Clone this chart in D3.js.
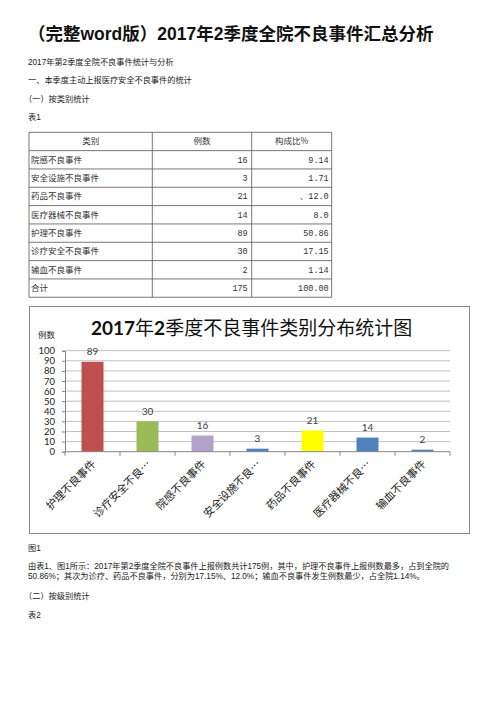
<!DOCTYPE html>
<html>
<head>
<meta charset="utf-8">
<script src="https://cdn.jsdelivr.net/npm/d3@7"></script>
<style>
  html, body { margin: 0; padding: 0; background: #fff; }
  svg { display: block; }
</style>
</head>
<body>
<div id="page"></div>
<script>
// 表1 数据
const tableHeader = ['类别', '例数', '构成比%'];
const tableNames = ['院感不良事件', '安全设施不良事件', '药品不良事件', '医疗器械不良事件', '护理不良事件', '诊疗安全不良事件', '输血不良事件', '合计'];
const tableCounts = ['16', '3', '21', '14', '89', '30', '2', '175'];
const tableRatios = ['9.14', '1.71', '、12.0', '8.0', '50.86', '17.15', '1.14', '100.00'];

// 图1 数据
const chartCategories = ['护理不良事件', '诊疗安全不良…', '院感不良事件', '安全设施不良…', '药品不良事件', '医疗器械不良…', '输血不良事件'];
const chartValues = [89, 30, 16, 3, 21, 14, 2];
const chartColors = ['#C0504D', '#9BBB59', '#B3A2C7', '#4F81BD', '#FFFF00', '#4F81BD', '#4F81BD'];
const yTicks = [0, 10, 20, 30, 40, 50, 60, 70, 80, 90, 100];

const W = 504, H = 713;
const sans = '"Liberation Sans", "Noto Sans CJK SC", sans-serif';
const cjk = '"Noto Sans CJK SC", sans-serif';
const mono = '"Liberation Mono", "Noto Sans CJK SC", monospace';
const calibri = 'Lato, "Noto Sans CJK SC", sans-serif';

const svg = d3.select('#page').append('svg')
  .attr('width', W)
  .attr('height', H)
  .attr('viewBox', `0 0 ${W} ${H}`);

// 页面标题
svg.append('text')
  .attr('x', 28)
  .attr('y', 40)
  .attr('font-family', sans)
  .attr('font-size', 17.5)
  .attr('font-weight', 'bold')
  .attr('fill', '#111')
  .text('（完整word版）2017年2季度全院不良事件汇总分析');

// 正文行
const lines = [
  { y: 64.5, t: '2017年第2季度全院不良事件统计与分析' },
  { y: 83, t: '一、本季度主动上报医疗安全不良事件的统计' },
  { y: 101.5, t: '（一）按类别统计', x: 24 },
  { y: 120, t: '表1' },
  { y: 550.5, t: '图1' },
  { y: 568.5, t: '由表1、图1所示：2017年第2季度全院不良事件上报例数共计175例，其中，护理不良事件上报例数最多，占到全院的', len: 421 },
  { y: 579, t: '50.86%；其次为诊疗、药品不良事件，分别为17.15%、12.0%；输血不良事件发生例数最少，占全院1.14%。' },
  { y: 598.5, t: '（二）按级别统计', x: 24 },
  { y: 618, t: '表2' }
];
svg.append('g').selectAll('text')
  .data(lines)
  .join('text')
  .attr('x', d => d.x || 28)
  .attr('y', d => d.y)
  .attr('font-family', sans)
  .attr('font-size', 8.2)
  .attr('fill', '#222')
  .each(function (d) {
    if (d.len) d3.select(this).attr('textLength', d.len).attr('lengthAdjust', 'spacing');
  })
  .text(d => d.t);

// 表格
const table = { x: 29, y: 132.3, rowH: 18.33, cols: [29, 152.3, 251.7, 331.7] };
const tg = svg.append('g').attr('stroke', '#555').attr('stroke-width', 0.8);
const rowCount = tableNames.length + 1;
tg.selectAll('line.h')
  .data(d3.range(rowCount + 1))
  .join('line')
  .attr('class', 'h')
  .attr('x1', table.cols[0]).attr('x2', table.cols[3])
  .attr('y1', i => table.y + i * table.rowH)
  .attr('y2', i => table.y + i * table.rowH);
tg.selectAll('line.v')
  .data(table.cols)
  .join('line')
  .attr('class', 'v')
  .attr('x1', d => d).attr('x2', d => d)
  .attr('y1', table.y).attr('y2', table.y + rowCount * table.rowH);

const txt = svg.append('g').attr('font-size', 8.5).attr('fill', '#333');
txt.selectAll('text.head')
  .data(tableHeader)
  .join('text')
  .attr('class', 'head')
  .attr('x', (d, i) => (table.cols[i] + table.cols[i + 1]) / 2)
  .attr('y', table.y + table.rowH / 2 + 3)
  .attr('text-anchor', 'middle')
  .attr('font-family', cjk)
  .text(d => d);
txt.selectAll('text.name')
  .data(tableNames)
  .join('text')
  .attr('class', 'name')
  .attr('x', table.cols[0] + 2)
  .attr('y', (d, i) => table.y + (i + 1.5) * table.rowH + 3)
  .attr('font-family', cjk)
  .text(d => d);
txt.selectAll('text.count')
  .data(tableCounts)
  .join('text')
  .attr('class', 'count')
  .attr('x', table.cols[2] - 4)
  .attr('y', (d, i) => table.y + (i + 1.5) * table.rowH + 3)
  .attr('text-anchor', 'end')
  .attr('font-family', mono)
  .text(d => d);
txt.selectAll('text.ratio')
  .data(tableRatios)
  .join('text')
  .attr('class', 'ratio')
  .attr('x', table.cols[3] - 3)
  .attr('y', (d, i) => table.y + (i + 1.5) * table.rowH + 3)
  .attr('text-anchor', 'end')
  .attr('font-family', mono)
  .text(d => d);

// 图1 柱状图
const box = { x: 29.5, y: 306.5, w: 440, h: 227 };
svg.append('rect')
  .attr('x', box.x).attr('y', box.y)
  .attr('width', box.w).attr('height', box.h)
  .attr('fill', '#fff')
  .attr('stroke', '#888')
  .attr('stroke-width', 1);

const plot = { left: 65, right: 450, top: 350.7, bottom: 451.7 };
const x = d3.scaleBand()
  .domain(chartCategories)
  .range([plot.left, plot.right])
  .paddingInner(0.6)
  .paddingOuter(0.3);
const y = d3.scaleLinear()
  .domain([0, 100])
  .range([plot.bottom, plot.top]);

const chart = svg.append('g');

// 网格线
chart.append('g')
  .selectAll('line')
  .data(yTicks.filter(d => d > 0))
  .join('line')
  .attr('x1', plot.left).attr('x2', plot.right)
  .attr('y1', d => y(d)).attr('y2', d => y(d))
  .attr('stroke', '#B0B0B0')
  .attr('stroke-width', 0.8);

// y 轴
const yAxis = chart.append('g')
  .attr('transform', `translate(${plot.left},0)`)
  .call(d3.axisLeft(y).tickValues(yTicks).tickSize(3).tickPadding(7));
yAxis.select('.domain').attr('stroke', '#868686');
yAxis.selectAll('.tick line').attr('stroke', '#868686');
yAxis.selectAll('.tick text')
  .attr('font-family', calibri)
  .attr('font-size', 9.5)
  .attr('fill', '#222');

// 柱
chart.append('g')
  .selectAll('rect')
  .data(chartCategories)
  .join('rect')
  .attr('x', d => x(d))
  .attr('width', x.bandwidth())
  .attr('y', (d, i) => y(chartValues[i]))
  .attr('height', (d, i) => y(0) - y(chartValues[i]))
  .attr('fill', (d, i) => chartColors[i]);

// 数据标签
chart.append('g')
  .selectAll('text')
  .data(chartCategories)
  .join('text')
  .attr('x', d => x(d) + x.bandwidth() / 2)
  .attr('y', (d, i) => y(chartValues[i]) - 6.5)
  .attr('text-anchor', 'middle')
  .attr('font-family', calibri)
  .attr('font-size', 10)
  .attr('fill', '#404040')
  .text((d, i) => chartValues[i]);

// x 轴
const xg = chart.append('g');
xg.append('line')
  .attr('x1', plot.left).attr('x2', plot.right)
  .attr('y1', y(0)).attr('y2', y(0))
  .attr('stroke', '#868686');
const bounds = d3.range(chartCategories.length + 1).map(i => plot.left + i * x.step());
xg.selectAll('line.tk')
  .data(bounds)
  .join('line')
  .attr('class', 'tk')
  .attr('x1', d => d).attr('x2', d => d)
  .attr('y1', y(0)).attr('y2', y(0) + 4)
  .attr('stroke', '#868686');
xg.selectAll('text')
  .data(chartCategories)
  .join('text')
  .attr('transform', d => `translate(${x(d) + x.bandwidth() / 2 + 4},${y(0) + 13}) rotate(-45)`)
  .attr('text-anchor', 'end')
  .attr('font-family', cjk)
  .attr('font-size', 10.8)
  .attr('fill', '#222')
  .text(d => d);

// 轴标题
chart.append('text')
  .attr('x', 38)
  .attr('y', 338)
  .attr('font-family', cjk)
  .attr('font-size', 8.5)
  .attr('fill', '#222')
  .text('例数');

// 图标题
const title = chart.append('text')
  .attr('x', 91)
  .attr('y', 335)
  .attr('font-family', calibri)
  .attr('font-size', 19)
  .attr('fill', '#111');
[['2017', 'bold'], ['年', 'normal'], ['2', 'bold'], ['季度不良事件类别分布统计图', 'normal']]
  .forEach(([t, w]) => title.append('tspan').attr('font-weight', w).text(t));
</script>
</body>
</html>
